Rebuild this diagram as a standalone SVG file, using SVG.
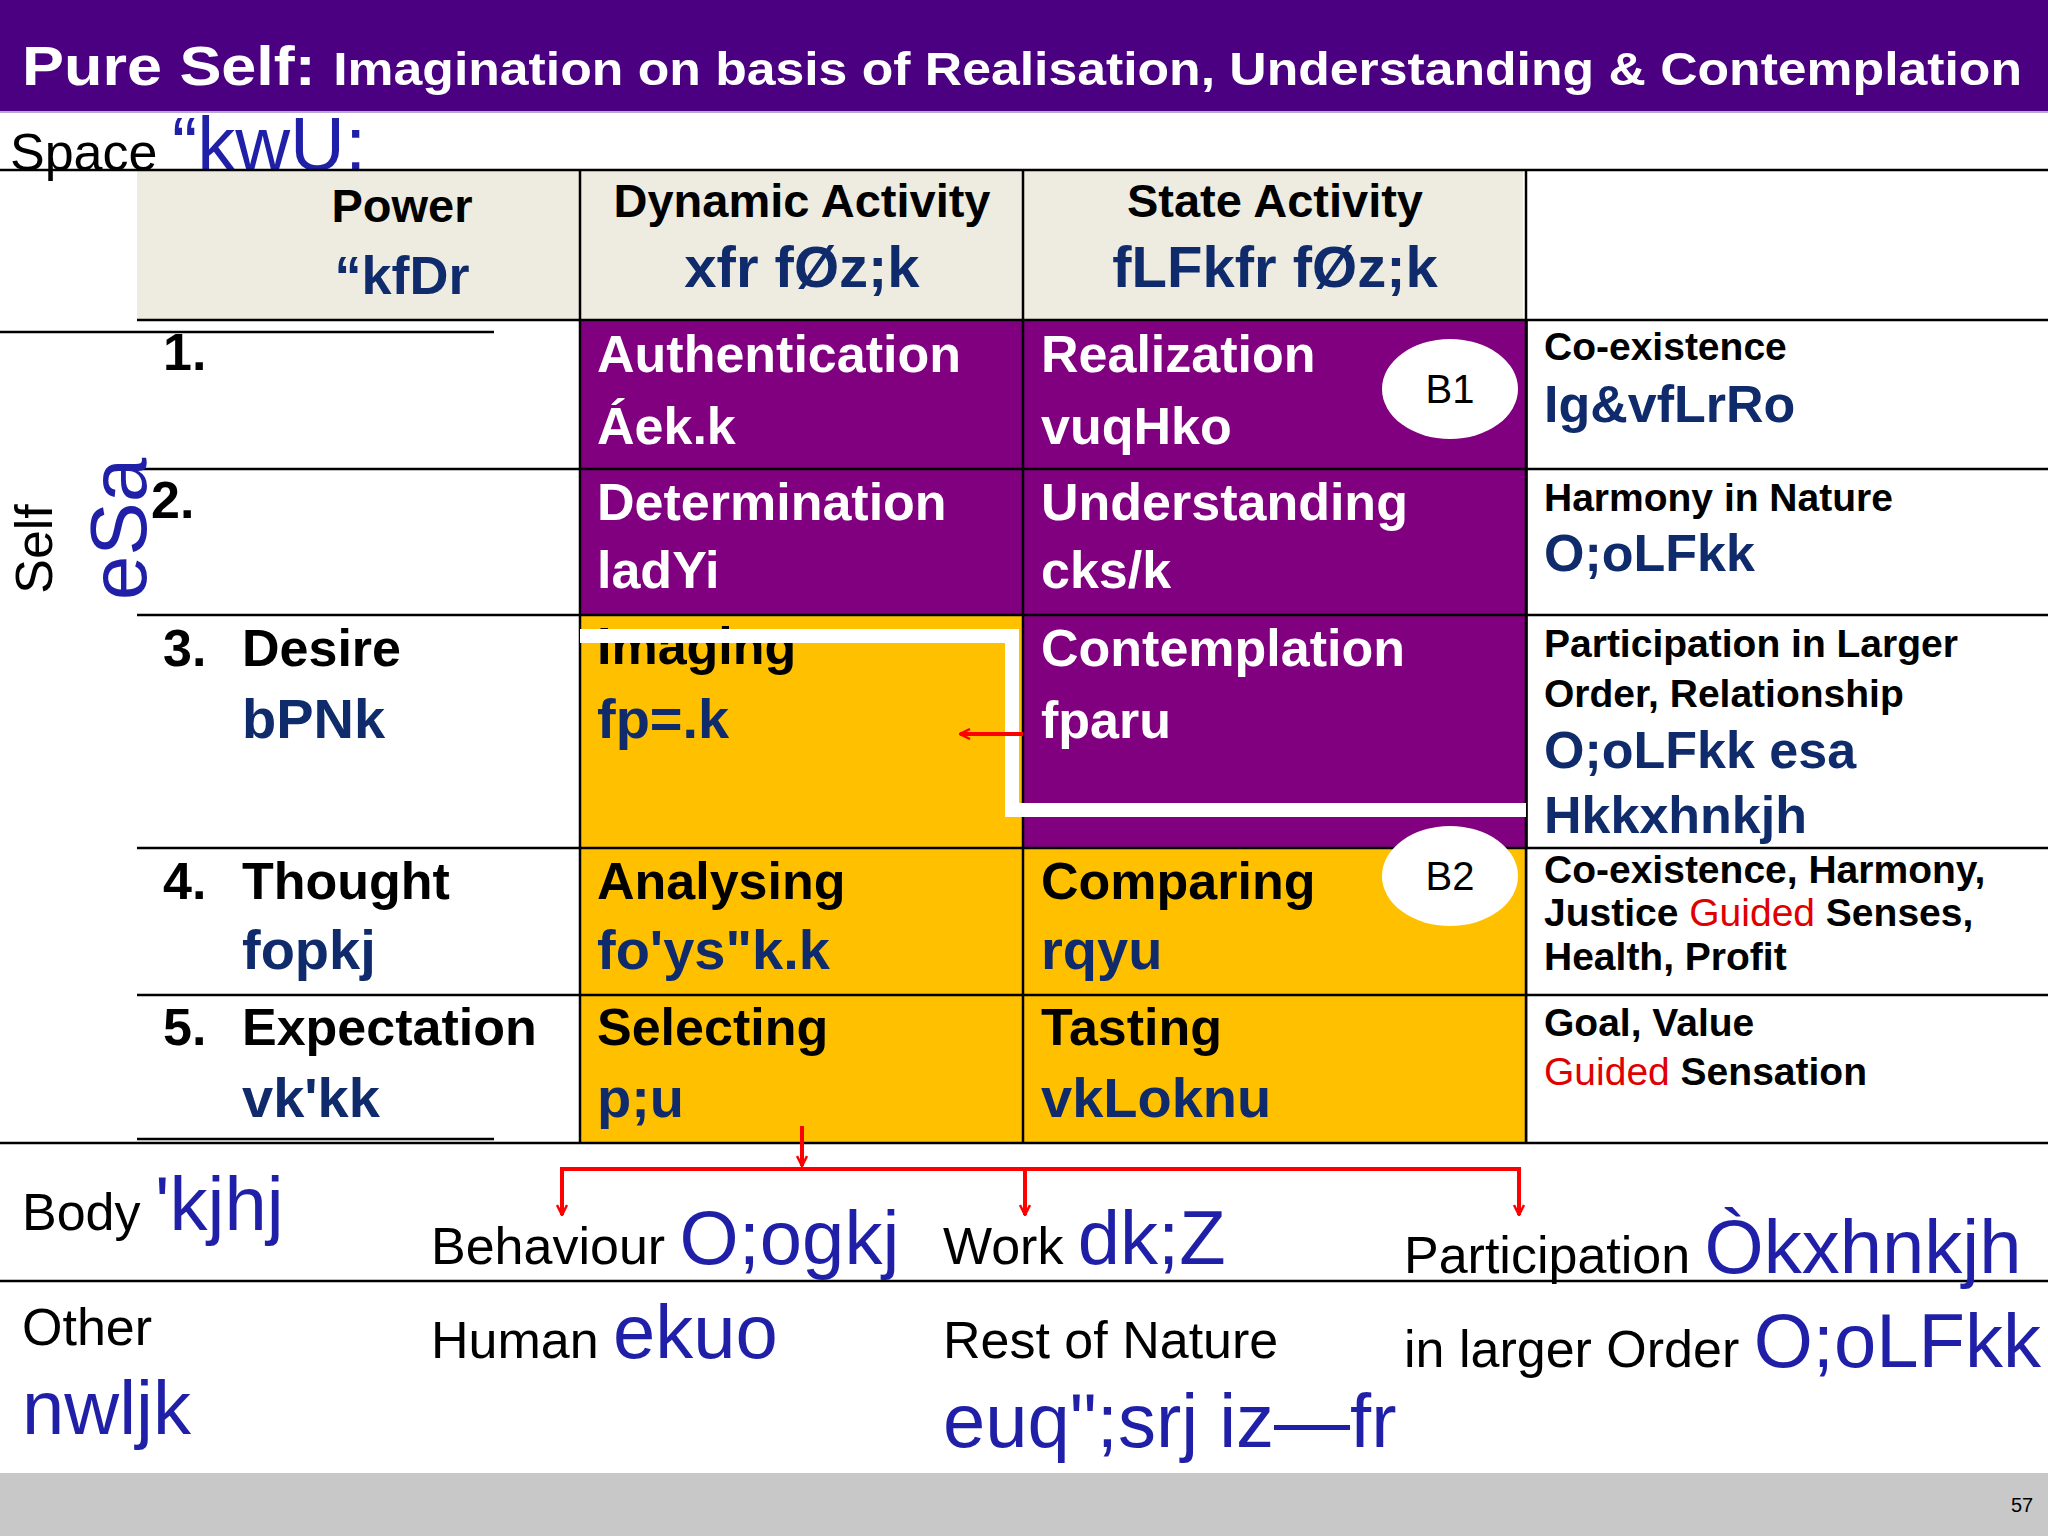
<svg xmlns="http://www.w3.org/2000/svg" width="2048" height="1536" viewBox="0 0 2048 1536">
<defs>
<style>
text{font-family:"Liberation Sans",Arial,sans-serif}
.b{font-weight:bold}
.w{fill:#fff}
.nv{fill:#0f2b6b;font-weight:bold}
.bl{fill:#1f1fa8}
.hd{font-size:47px;font-weight:bold;fill:#000}
.cl{font-size:52px;font-weight:bold}
.c4{font-size:39px;font-weight:bold;fill:#000}
.ln{stroke:#000;stroke-width:2.5}
.big{font-size:52px;fill:#000}
.bigb{font-size:76px}
.red{fill:#e00000;font-weight:normal}
</style>
<marker id="ah" viewBox="0 0 12 12" refX="11" refY="6" markerWidth="12" markerHeight="12" markerUnits="userSpaceOnUse" orient="auto">
<path d="M1,1 L11,6 L1,11" fill="none" stroke="#f00" stroke-width="2.5"/>
</marker>
</defs>
<rect width="2048" height="1536" fill="#fff"/>
<g id="title">
<rect x="0" y="0" width="2048" height="111" fill="#4b0082"/>
<line x1="0" y1="112" x2="2048" y2="112" stroke="#b9a6d6" stroke-width="2"/>
<text x="22" y="85" class="b w" font-size="56" textLength="2000" lengthAdjust="spacingAndGlyphs">Pure Self: <tspan font-size="46">Imagination on basis of Realisation, Understanding &amp; Contemplation</tspan></text>
</g>
<g id="space">
<text x="10" y="170" class="big">Space <tspan class="bl bigb">“kwU;</tspan></text>
</g>
<g id="table">
<rect x="137" y="171" width="1386" height="149" fill="#eeece1"/>
<rect x="580" y="320" width="948" height="295" fill="#800080"/>
<rect x="1023" y="615" width="505" height="233" fill="#800080"/>
<rect x="580" y="615" width="443" height="528" fill="#ffc000"/>
<rect x="1023" y="848" width="505" height="295" fill="#ffc000"/>
<g class="ln">
<line x1="0" y1="170" x2="2048" y2="170"/>
<line x1="137" y1="320" x2="2048" y2="320"/>
<line x1="0" y1="332" x2="494" y2="332"/>
<line x1="137" y1="469" x2="2048" y2="469"/>
<line x1="137" y1="615" x2="2048" y2="615"/>
<line x1="137" y1="848" x2="2048" y2="848"/>
<line x1="137" y1="995" x2="2048" y2="995"/>
<line x1="137" y1="1139" x2="494" y2="1139"/>
<line x1="0" y1="1143" x2="2048" y2="1143"/>
<line x1="580" y1="171" x2="580" y2="1143"/>
<line x1="1023" y1="171" x2="1023" y2="1143"/>
<line x1="1526" y1="171" x2="1526" y2="1143"/>
<line x1="0" y1="1281" x2="2048" y2="1281"/>
</g>
</g>
<g id="header">
<text x="402" y="222" class="hd" text-anchor="middle">Power</text>
<text x="402" y="294" class="nv" font-size="54" text-anchor="middle">“kfDr</text>
<text x="802" y="217" class="hd" text-anchor="middle">Dynamic Activity</text>
<text x="802" y="287" class="nv" font-size="58" text-anchor="middle">xfr fØz;k</text>
<text x="1275" y="217" class="hd" text-anchor="middle">State  Activity</text>
<text x="1275" y="287" class="nv" font-size="58" text-anchor="middle">fLFkfr fØz;k</text>
</g>
<g id="self-label">
<text transform="translate(52,549) rotate(-90)" font-size="52" text-anchor="middle">Self</text>
<text transform="translate(146,529) rotate(-90)" class="bl" font-size="80" text-anchor="middle">eSa</text>
</g>
<g id="row1">
<text x="163" y="370" class="cl">1.</text>
<text x="597" y="372" class="cl w">Authentication</text>
<text x="597" y="444" class="cl w" font-size="56">Áek.k</text>
<text x="1041" y="372" class="cl w">Realization</text>
<text x="1041" y="444" class="cl w" font-size="56">vuqHko</text>
<text x="1544" y="360" class="c4">Co-existence</text>
<text x="1544" y="422" class="nv" font-size="52">Ig&amp;vfLrRo</text>
</g>
<g id="row2">
<text x="151" y="518" class="cl">2.</text>
<text x="597" y="520" class="cl w">Determination</text>
<text x="597" y="588" class="cl w" font-size="56">ladYi</text>
<text x="1041" y="520" class="cl w">Understanding</text>
<text x="1041" y="588" class="cl w" font-size="56">cks/k</text>
<text x="1544" y="511" class="c4">Harmony in Nature</text>
<text x="1544" y="571" class="nv" font-size="52">O;oLFkk</text>
</g>
<g id="row3">
<text x="163" y="666" class="cl">3.</text>
<text x="242" y="666" class="cl">Desire</text>
<text x="242" y="738" class="nv" font-size="56">bPNk</text>
<text x="597" y="664" class="cl" fill="#000">Imaging</text>
<text x="597" y="738" class="nv" font-size="56">fp=.k</text>
<text x="1041" y="666" class="cl w">Contemplation</text>
<text x="1041" y="738" class="cl w" font-size="56">fparu</text>
<text x="1544" y="657" class="c4">Participation in Larger</text>
<text x="1544" y="707" class="c4">Order, Relationship</text>
<text x="1544" y="768" class="nv" font-size="52">O;oLFkk esa</text>
<text x="1544" y="833" class="nv" font-size="52">Hkkxhnkjh</text>
</g>
<path id="boundary" d="M580,636 H1012 V810 H1526" fill="none" stroke="#fff" stroke-width="14"/>
<g id="row4">
<text x="163" y="899" class="cl">4.</text>
<text x="242" y="899" class="cl">Thought</text>
<text x="242" y="969" class="nv" font-size="56">fopkj</text>
<text x="597" y="899" class="cl">Analysing</text>
<text x="597" y="969" class="nv" font-size="56">fo'ys"k.k</text>
<text x="1041" y="899" class="cl">Comparing</text>
<text x="1041" y="969" class="nv" font-size="56">rqyu</text>
<text x="1544" y="883" class="c4" font-size="35">Co-existence, Harmony,</text>
<text x="1544" y="926" class="c4" font-size="35">Justice <tspan class="red">Guided</tspan> Senses,</text>
<text x="1544" y="970" class="c4" font-size="35">Health, Profit</text>
</g>
<g id="row5">
<text x="163" y="1045" class="cl">5.</text>
<text x="242" y="1045" class="cl">Expectation</text>
<text x="242" y="1117" class="nv" font-size="56">vk'kk</text>
<text x="597" y="1045" class="cl">Selecting</text>
<text x="597" y="1117" class="nv" font-size="56">p;u</text>
<text x="1041" y="1045" class="cl">Tasting</text>
<text x="1041" y="1117" class="nv" font-size="56">vkLoknu</text>
<text x="1544" y="1036" class="c4">Goal, Value</text>
<text x="1544" y="1085" class="c4"><tspan class="red">Guided</tspan> Sensation</text>
</g>
<g id="B1">
<ellipse cx="1450" cy="389" rx="68" ry="50" fill="#fff"/>
<text x="1450" y="403" font-size="40" text-anchor="middle">B1</text>
</g>
<g id="B2">
<ellipse cx="1450" cy="876" rx="68" ry="50" fill="#fff"/>
<text x="1450" y="890" font-size="40" text-anchor="middle">B2</text>
</g>
<g id="connectors" fill="none" stroke="#f00" stroke-width="4">
<line x1="1023" y1="734" x2="960" y2="734" marker-end="url(#ah)"/>
<line x1="802" y1="1126" x2="802" y2="1166" marker-end="url(#ah)"/>
<path d="M562,1215 V1169 H1519 V1215" marker-end="url(#ah)"/>
<path d="M562,1169 V1215" marker-end="url(#ah)"/>
<path d="M1025,1169 V1215" marker-end="url(#ah)"/>
</g>
<g id="bottom">
<text x="22" y="1230" class="big">Body <tspan class="bl bigb">'kjhj</tspan></text>
<text x="431" y="1264" class="big">Behaviour <tspan class="bl bigb">O;ogkj</tspan></text>
<text x="943" y="1264" class="big">Work <tspan class="bl bigb">dk;Z</tspan></text>
<text x="1404" y="1273" class="big">Participation <tspan class="bl bigb">Òkxhnkjh</tspan></text>
<text x="22" y="1345" class="big">Other</text>
<text x="22" y="1434" class="bl bigb">nwljk</text>
<text x="431" y="1358" class="big">Human <tspan class="bl bigb">ekuo</tspan></text>
<text x="943" y="1358" class="big">Rest of Nature</text>
<text x="943" y="1447" class="bl bigb">euq";srj iz—fr</text>
<text x="1404" y="1367" class="big">in larger Order <tspan class="bl bigb">O;oLFkk</tspan></text>
</g>
<g id="footer">
<rect x="0" y="1473" width="2048" height="63" fill="#c8c8c8"/>
<text x="2011" y="1512" font-size="20">57</text>
</g>
</svg>
